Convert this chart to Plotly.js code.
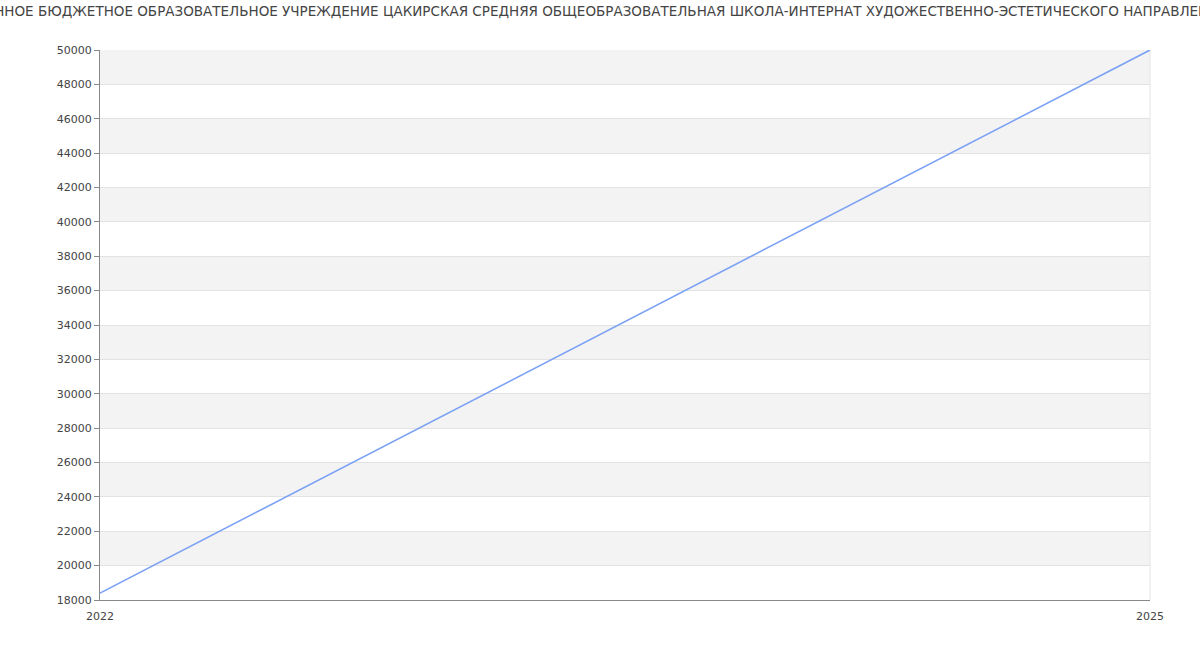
<!DOCTYPE html>
<html><head><meta charset="utf-8">
<script src="https://cdn.plot.ly/plotly-3.0.1.min.js"></script>
<style>html,body{margin:0;padding:0;background:#fff}#chart{width:1200px;height:650px}</style>
</head><body><div id="chart"></div>
<script>
const titleText = "ГОСУДАРСТВЕННОЕ БЮДЖЕТНОЕ ОБРАЗОВАТЕЛЬНОЕ УЧРЕЖДЕНИЕ ЦАКИРСКАЯ СРЕДНЯЯ ОБЩЕОБРАЗОВАТЕЛЬНАЯ ШКОЛА-ИНТЕРНАТ ХУДОЖЕСТВЕННО-ЭСТЕТИЧЕСКОГО НАПРАВЛЕНИЯ";
const years = [2022, 2025];
const values = [18400, 50000];
const yTicks = [18000,20000,22000,24000,26000,28000,30000,32000,34000,36000,38000,40000,42000,44000,46000,48000,50000];

const shapes = [];
for (let i = 0; i < yTicks.length - 1; i++) {
  if (i % 2 === 1) {
    shapes.push({type:'rect', xref:'paper', yref:'y', x0:0, x1:1, y0:yTicks[i], y1:yTicks[i+1],
      fillcolor:'#f3f3f3', line:{width:0}, layer:'below'});
  }
}
shapes.push({type:'line', xref:'paper', yref:'paper', x0:1, x1:1, y0:0, y1:1, line:{color:'#e4e4e4', width:1}, layer:'below'});

Plotly.newPlot('chart', [{
  x: years, y: values, type:'scatter', mode:'lines',
  line:{color:'#7ba1f5', width:1.6}, hoverinfo:'x+y'
}], {
  width:1200, height:650,
  margin:{l:100, r:50, t:50, b:50},
  paper_bgcolor:'#fff', plot_bgcolor:'rgba(0,0,0,0)',
  font:{family:'DejaVu Sans, sans-serif', size:11, color:'#444'},
  title:{text:titleText, x:0.4675, xanchor:'center', y:0.982, yanchor:'middle', font:{size:13.5, color:'#444'}},
  showlegend:false,
  xaxis:{range:[2022,2025], tickvals:years, ticktext:years.map(String), showgrid:false, zeroline:false,
    showline:true, linecolor:'#888', linewidth:1, ticks:'', ticklabelstandoff:6, tickfont:{size:11, color:'#444'}},
  yaxis:{range:[18000,50000], tickvals:yTicks, ticktext:yTicks.map(String), showgrid:true, gridcolor:'#e2e2e2', gridwidth:1,
    zeroline:false, showline:true, linecolor:'#888', linewidth:1, ticks:'outside', ticklen:5, tickcolor:'#888',
    tickfont:{size:11, color:'#444'}},
  shapes: shapes
}, {displayModeBar:false, staticPlot:true});
</script></body></html>
